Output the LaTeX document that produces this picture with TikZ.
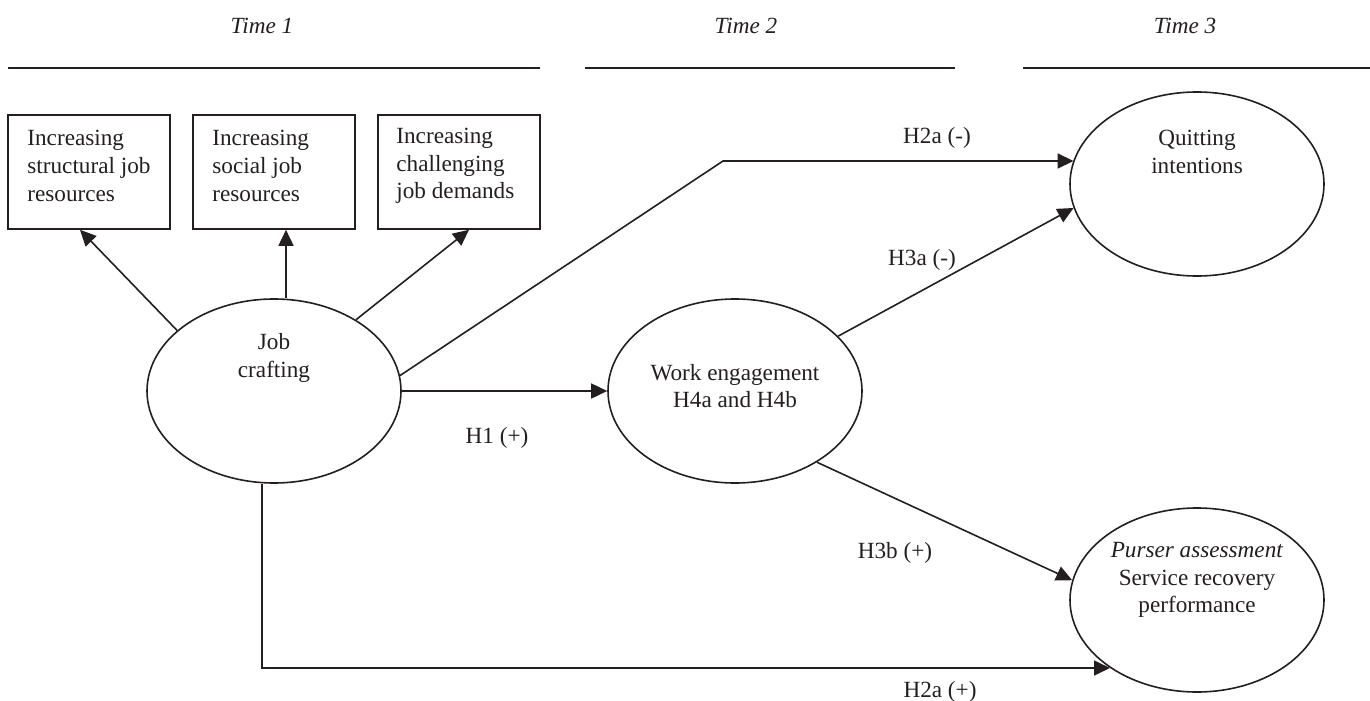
\documentclass[tikz,border=0pt]{standalone}
\usepackage{fontspec}
\setmainfont{Liberation Serif}
\usetikzlibrary{arrows.meta,calc,shapes.geometric}
\definecolor{ink}{HTML}{231F20}
\begin{document}
\begin{tikzpicture}[x=0.5pt,y=-0.5pt,
  every node/.style={font=\fontsize{11.6pt}{13.8pt}\selectfont, text=ink},
  timelbl/.style={font=\fontsize{11.6pt}{13.8pt}\selectfont\itshape, inner sep=0pt},
  box/.style={draw=ink, line width=0.8pt, minimum width=81pt, minimum height=57pt, inner sep=0pt},
  oval/.style={draw=ink, ellipse, line width=0.8pt, minimum width=127pt, minimum height=92pt, inner sep=0pt},
  boxtext/.style={anchor=west, align=left, inner sep=0pt},
  ovaltext/.style={align=center, inner sep=0pt},
  conn/.style={draw=ink, line width=0.8pt, -{Triangle[length=8pt,width=7.5pt]}},
  timeline/.style={draw=ink, line width=1pt},
  lbl/.style={inner sep=0pt}]
\useasboundingbox (0,0) rectangle (1370,701);

% time headers
\node[timelbl] (t1) at (262,26) {Time 1};
\node[timelbl] (t2) at (746,26) {Time 2};
\node[timelbl] (t3) at (1185,26) {Time 3};
\coordinate (l1a) at (8,68);    \coordinate (l1b) at (540,68);
\coordinate (l2a) at (585,68);  \coordinate (l2b) at (955,68);
\coordinate (l3a) at (1023,68); \coordinate (l3b) at (1370,68);
\draw[timeline] (l1a) -- (l1b);
\draw[timeline] (l2a) -- (l2b);
\draw[timeline] (l3a) -- (l3b);

% boxes
\node[box] (b1) at (89,172) {};
\node[boxtext] (b1t) at (27,166) {Increasing\\structural job\\resources};
\node[box] (b2) at (274,172) {};
\node[boxtext] (b2t) at (212,166) {Increasing\\social job\\resources};
\node[box] (b3) at (459,172) {};
\node[boxtext] (b3t) at (396,166) {Increasing\\challenging\\job demands};

% ellipses
\node[oval] (jc) at (274,391) {};
\node[ovaltext] (jct) at (274,358) {Job\\crafting};
\node[oval] (we) at (735,391) {};
\node[ovaltext] (wet) at (735,386) {Work engagement\\H4a and H4b};
\node[oval] (qi) at (1197,184) {};
\node[ovaltext] (qit) at (1197,152) {Quitting\\intentions};
\node[oval] (pa) at (1197,600) {};
\node[ovaltext] (pat) at (1197,580) {\textit{Purser assessment}\\Service recovery\\performance};

% connectors to boxes
\coordinate (b1tip) at ($(b1.south)+(-9,0)$);
\draw[conn] (jc.148) -- (b1tip);
\coordinate (b2tip) at ($(b2.south)+(12,0)$);
\draw[conn] (jc.north -| b2tip) -- (b2tip);
\coordinate (b3tip) at ($(b3.south)+(10,0)$);
\draw[conn] (jc.41) -- (b3tip);

% H2a (-)
\coordinate (bendA) at (723,161);
\draw[conn] (jc.7) -- (bendA) -- (bendA -| qi.169);
\node[lbl] (lh2am) at (937,138) {H2a (-)};

% H1 (+)
\draw[conn] (jc.east) -- (we.west);
\node[lbl] (lh1) at (497,438) {H1 (+)};

% H3a (-)
\draw[conn] (we.28) -- (qi.191);
\node[lbl] (lh3a) at (922,260) {H3a (-)};

% H3b (+)
\draw[conn] (we.-41) -- (pa.171);
\node[lbl] (lh3b) at (895,553) {H3b (+)};

% H2a (+)
\coordinate (h2c) at (262,668);
\draw[conn] (jc.south -| h2c) -- (h2c) -- (h2c -| pa.218);
\node[lbl] (lh2ap) at (940,692) {H2a (+)};
\end{tikzpicture}
\end{document}
